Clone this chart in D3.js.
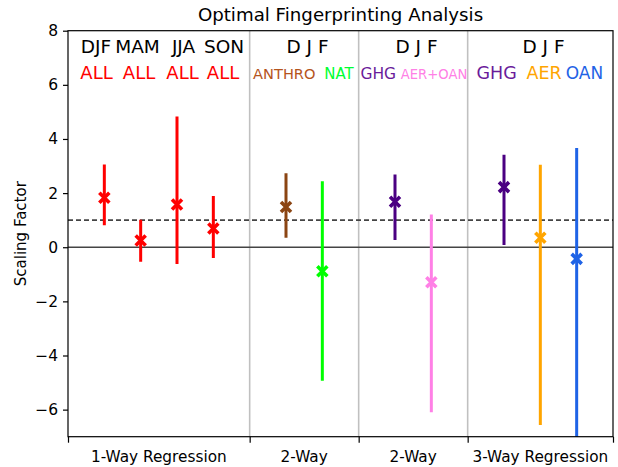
<!DOCTYPE html>
<html>
  <head>
    <meta charset="utf-8">
    <title>Optimal Fingerprinting Analysis</title>
    <script src="https://d3js.org/d3.v7.min.js"></script>
    <style>
      body { margin: 0; background: #fff; }
      svg { font-family: "DejaVu Sans", sans-serif; }
    </style>
  </head>
  <body>
    <script>
      // data: one entry per error bar
      var names = ["DJF ALL", "MAM ALL", "JJA ALL", "SON ALL",
        "ANTHRO", "NAT", "GHG (2-way)", "AER+OAN", "GHG", "AER", "OAN"];
      var xPos = [1, 2, 3, 4, 6, 7, 9, 10, 12, 13, 14];
      var best = [1.83, 0.25, 1.58, 0.69, 1.49, -0.89, 1.68, -1.29, 2.22, 0.35, -0.43];
      var lower = [0.81, -0.54, -0.62, -0.40, 0.35, -4.93, 0.27, -6.10, 0.08, -6.57, -7.6];
      var upper = [3.06, 1.02, 4.83, 1.89, 2.73, 2.44, 2.69, 1.21, 3.42, 3.05, 3.67];
      var colors = ["#ff0000", "#ff0000", "#ff0000", "#ff0000",
        "#8b4513", "#00ff00", "#4b0082", "#ff80e6", "#4b0082", "#ffa500", "#1f63e6"];

      // group boundaries and labels
      var boundaries = [5, 8, 11];
      var xTicks = [0, 5, 8, 11, 15];
      var groupCentres = [2.5, 6.5, 9.5, 13];
      var groupLabels = ["1-Way Regression", "2-Way", "2-Way", "3-Way Regression"];
      var yTicks = [-6, -4, -2, 0, 2, 4, 6, 8];

      // header annotations
      var headTop = ["DJF", "MAM", "JJA", "SON", "D J F", "D J F", "D J F"];
      var headBottom = ["ALL", "ALL", "ALL", "ALL", "ANTHRO", "NAT", "GHG", "AER+OAN", "GHG", "AER", "OAN"];
      var headBottomColors = ["#ff0000", "#ff0000", "#ff0000", "#ff0000",
        "#b5541c", "#00ff33", "#6a1b9a", "#ff80e6", "#6a1b9a", "#ffa500", "#1f63e6"];

      // layout of header text (pixels)
      var headTopX = [96, 137.5, 183.5, 224, 307.5, 416.5, 543.5];
      var headBottomX = [96.5, 139, 182.5, 223, 284.3, 339, 378.3, 434, 496.7, 544.2, 584.5];
      var headBottomSize = [18, 18, 18, 18, 14.6, 15, 15.5, 13.2, 17.5, 17.5, 17];

      var width = 618, height = 467,
        margin = { top: 30.7, right: 5, bottom: 30.3, left: 68 };

      var svg = d3.select("body").append("svg")
        .attr("width", width)
        .attr("height", height);

      var x = d3.scaleLinear()
        .domain([0, 15])
        .range([margin.left, width - margin.right]);

      var y = d3.scaleLinear()
        .domain([-7, 8])
        .range([height - margin.bottom, margin.top]);

      svg.append("defs").append("clipPath")
        .attr("id", "plotclip")
        .append("rect")
          .attr("x", x(0))
          .attr("y", y(8))
          .attr("width", x(15) - x(0))
          .attr("height", y(-7) - y(8));

      // title
      svg.append("text")
        .attr("x", (x(0) + x(15)) / 2)
        .attr("y", 21)
        .attr("text-anchor", "middle")
        .style("font-size", "18.2px")
        .text("Optimal Fingerprinting Analysis");

      // y label
      svg.append("text")
        .attr("transform", "translate(26," + ((y(8) + y(-7)) / 2) + ") rotate(-90)")
        .attr("text-anchor", "middle")
        .style("font-size", "15px")
        .text("Scaling Factor");

      var plot = svg.append("g").attr("clip-path", "url(#plotclip)");

      // group separators
      plot.selectAll("line.sep")
        .data(boundaries)
        .enter().append("line")
          .attr("class", "sep")
          .attr("x1", function(d) { return x(d); })
          .attr("x2", function(d) { return x(d); })
          .attr("y1", y(8))
          .attr("y2", y(-7))
          .attr("stroke", "#c0c0c0")
          .attr("stroke-width", 1.6);

      // reference lines
      plot.append("line")
        .attr("x1", x(0)).attr("x2", x(15))
        .attr("y1", y(0)).attr("y2", y(0))
        .attr("stroke", "#444")
        .attr("stroke-width", 1.6);

      plot.append("line")
        .attr("x1", x(0)).attr("x2", x(15))
        .attr("y1", y(1)).attr("y2", y(1))
        .attr("stroke", "#444")
        .attr("stroke-width", 1.6)
        .attr("stroke-dasharray", "5,3");

      // error bars
      var idx = d3.range(names.length);

      plot.selectAll("line.bar")
        .data(idx)
        .enter().append("line")
          .attr("class", "bar")
          .attr("x1", function(i) { return x(xPos[i]); })
          .attr("x2", function(i) { return x(xPos[i]); })
          .attr("y1", function(i) { return y(lower[i]); })
          .attr("y2", function(i) { return y(upper[i]); })
          .attr("stroke", function(i) { return colors[i]; })
          .attr("stroke-width", 3);

      // best estimate markers
      var m = 5;
      plot.selectAll("path.mark")
        .data(idx)
        .enter().append("path")
          .attr("class", "mark")
          .attr("d", function(i) {
            var cx = x(xPos[i]), cy = y(best[i]);
            return "M" + (cx - m) + "," + (cy - m) + "L" + (cx + m) + "," + (cy + m) +
              "M" + (cx - m) + "," + (cy + m) + "L" + (cx + m) + "," + (cy - m);
          })
          .attr("stroke", function(i) { return colors[i]; })
          .attr("stroke-width", 3.6)
          .attr("fill", "none");

      // axes
      var yAxis = svg.append("g")
        .attr("transform", "translate(" + x(0) + ",0)")
        .call(d3.axisLeft(y).tickValues(yTicks).tickSize(5).tickPadding(5));

      var xAxis = svg.append("g")
        .attr("transform", "translate(0," + y(-7) + ")")
        .call(d3.axisBottom(x).tickValues(xTicks).tickSize(6).tickFormat(""));

      [yAxis, xAxis].forEach(function(a) {
        a.select(".domain").remove();
        a.selectAll(".tick line").attr("stroke", "#000").attr("stroke-width", 1.2);
        a.selectAll(".tick text").style("font-size", "15.5px").style("font-family", "DejaVu Sans").attr("fill", "#000");
      });

      // frame
      svg.append("rect")
        .attr("x", x(0))
        .attr("y", y(8))
        .attr("width", x(15) - x(0))
        .attr("height", y(-7) - y(8))
        .attr("fill", "none")
        .attr("stroke", "#000")
        .attr("stroke-width", 1.2);

      // group labels
      svg.selectAll("text.group")
        .data(groupLabels)
        .enter().append("text")
          .attr("class", "group")
          .attr("x", function(d, i) { return x(groupCentres[i]); })
          .attr("y", 462)
          .attr("text-anchor", "middle")
          .style("font-size", "15.3px")
          .text(function(d) { return d; });

      // header annotations
      svg.selectAll("text.headtop")
        .data(headTop)
        .enter().append("text")
          .attr("class", "headtop")
          .attr("x", function(d, i) { return headTopX[i]; })
          .attr("y", 53)
          .attr("text-anchor", "middle")
          .style("font-size", "18.5px")
          .text(function(d) { return d; });

      svg.selectAll("text.headbottom")
        .data(headBottom)
        .enter().append("text")
          .attr("class", "headbottom")
          .attr("x", function(d, i) { return headBottomX[i]; })
          .attr("y", 79)
          .attr("text-anchor", "middle")
          .attr("fill", function(d, i) { return headBottomColors[i]; })
          .style("font-size", function(d, i) { return headBottomSize[i] + "px"; })
          .text(function(d) { return d; });
    </script>
  </body>
</html>
